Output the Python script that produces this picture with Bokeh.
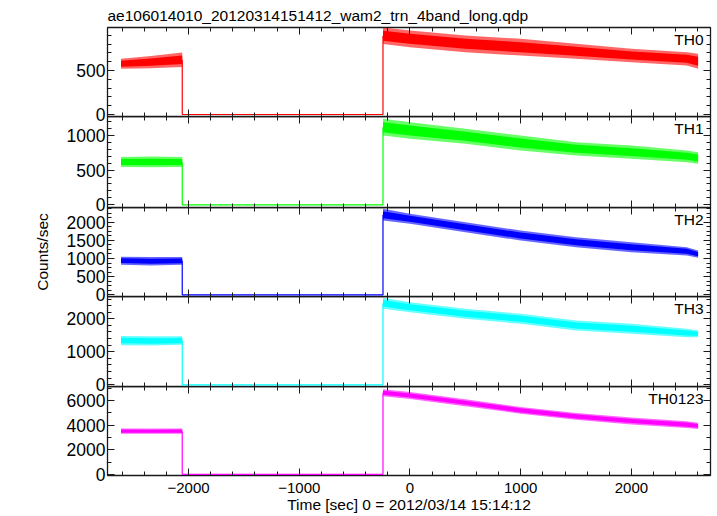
from bokeh.plotting import figure
from bokeh.layouts import column
from bokeh.models import (LinearAxis, Range1d, Label, Title, SingleIntervalTicker,
                          CustomJSTickFormatter)
from bokeh.embed import file_html
from bokeh.resources import INLINE

TITLE = "ae106014010_20120314151412_wam2_trn_4band_long.qdp"
XLABEL = "Time [sec] 0 = 2012/03/14 15:14:12"
YLABEL = "Counts/sec"

bands = ["TH0", "TH1", "TH2", "TH3", "TH0123"]
colors = ["#ff0000", "#00ff00", "#0000ff", "#00ffff", "#ff00ff"]

x_start, x_end = -2732, 2714

# sample times (sec)
pre_t = [-2610, -2340, -2057]
post_t = [-244, 0, 500, 1000, 1500, 2000, 2500, 2602]
gap_level = [0, 0, 0, 0, 0]

# envelopes of the noisy light curves (counts/sec)
th0_pre_lo = [520, 525, 540]
th0_pre_hi = [635, 665, 705]
th0_post_lo = [800, 765, 708, 670, 633, 595, 557, 520]
th0_post_hi = [990, 955, 898, 860, 803, 747, 708, 690]

th1_pre_lo = [545, 540, 545]
th1_pre_hi = [690, 695, 690]
th1_post_lo = [998, 951, 879, 782, 710, 663, 614, 591]
th1_post_hi = [1239, 1190, 1095, 998, 902, 854, 782, 758]

th2_pre_lo = [830, 810, 830]
th2_pre_hi = [1050, 1040, 1040]
th2_post_lo = [2047, 1956, 1725, 1496, 1311, 1174, 1083, 1019]
th2_post_hi = [2369, 2231, 2000, 1771, 1587, 1449, 1311, 1220]

th3_pre_lo = [1200, 1190, 1210]
th3_pre_hi = [1480, 1470, 1470]
th3_post_lo = [2303, 2200, 2000, 1848, 1645, 1545, 1442, 1442]
th3_post_hi = [2636, 2503, 2303, 2151, 1948, 1848, 1697, 1645]

th0123_pre_lo = [3300, 3300, 3300]
th0123_pre_hi = [3730, 3720, 3730]
th0123_post_lo = [6360, 6140, 5550, 4930, 4440, 4060, 3770, 3680]
th0123_post_hi = [6920, 6700, 6110, 5490, 5000, 4620, 4330, 4190]

y_ranges = [(-23, 989), (-39, 1272), (-47, 2405), (-52, 2676), (-97, 7150)]
y_major = [500, 500, 500, 1000, 2000]
y_minor = [5, 5, 4, 5, 2]

pre_lo = [th0_pre_lo, th1_pre_lo, th2_pre_lo, th3_pre_lo, th0123_pre_lo]
pre_hi = [th0_pre_hi, th1_pre_hi, th2_pre_hi, th3_pre_hi, th0123_pre_hi]
post_lo = [th0_post_lo, th1_post_lo, th2_post_lo, th3_post_lo, th0123_post_lo]
post_hi = [th0_post_hi, th1_post_hi, th2_post_hi, th3_post_hi, th0123_post_hi]

FONT = "Liberation Sans"
FRAME_W = 603
FRAME_H = [89, 91, 89, 90, 89]
LEFT = 107
OVERLAP = 12
FRAME_COLOR = "#1a1a1a"
CORE = 0.2   # fraction of the envelope drawn as fuzzy (semi-transparent) edge


def mk_axis(major, minor, labels=True):
    ax = LinearAxis(ticker=SingleIntervalTicker(interval=major, num_minor_ticks=minor),
                    major_tick_in=7, major_tick_out=0,
                    minor_tick_in=4, minor_tick_out=0,
                    axis_line_color=None,
                    major_tick_line_color=FRAME_COLOR, minor_tick_line_color=FRAME_COLOR,
                    major_tick_line_width=1, minor_tick_line_width=1)
    if labels:
        ax.major_label_text_font = FONT
        ax.major_label_text_color = "black"
    else:
        ax.formatter = CustomJSTickFormatter(code="return ''")
        ax.major_label_text_font_size = "0px"
        ax.major_label_standoff = 0
    return ax


def shrink(lo, hi):
    a = [l + CORE * (h - l) for l, h in zip(lo, hi)]
    b = [h - CORE * (h - l) for l, h in zip(lo, hi)]
    return a, b


figs = []
n = len(bands)
for i in range(n):
    last = (i == n - 1)
    p = figure(frame_width=FRAME_W, frame_height=FRAME_H[i],
               x_range=Range1d(x_start, x_end), y_range=Range1d(*y_ranges[i]),
               output_backend="svg", toolbar_location=None, title=None,
               x_axis_location=None, y_axis_location=None,
               min_border_left=LEFT, min_border_right=2,
               min_border_top=27 if i == 0 else 0,
               min_border_bottom=0 if last else OVERLAP,
               margin=(0, 0, 0 if last else -OVERLAP, 0))
    p.xgrid.visible = False
    p.ygrid.visible = False
    p.outline_line_color = FRAME_COLOR
    p.outline_line_width = 1.3
    p.background_fill_color = None
    p.border_fill_color = None

    c = colors[i]
    # fuzzy outer envelope
    p.varea(x=pre_t, y1=pre_lo[i], y2=pre_hi[i], color=c, fill_alpha=0.6)
    p.varea(x=post_t, y1=post_lo[i], y2=post_hi[i], color=c, fill_alpha=0.6)
    # solid core
    a, b = shrink(pre_lo[i], pre_hi[i])
    p.varea(x=pre_t, y1=a, y2=b, color=c)
    a, b = shrink(post_lo[i], post_hi[i])
    p.varea(x=post_t, y1=a, y2=b, color=c)

    step_x = [pre_t[-1], pre_t[-1], post_t[0], post_t[0]]
    step_y = [(pre_lo[i][-1] + pre_hi[i][-1]) / 2, gap_level[i], gap_level[i],
              (post_lo[i][0] + post_hi[i][0]) / 2]
    p.line(x=step_x, y=step_y, color=c, line_width=1.2)

    # left axis with labels
    la = mk_axis(y_major[i], y_minor[i], labels=True)
    la.major_label_text_font_size = "17.5px"
    la.major_label_standoff = 2
    if i == 2:
        la.axis_label = YLABEL
        la.axis_label_text_font = FONT
        la.axis_label_text_font_size = "15.5px"
        la.axis_label_text_font_style = "normal"
        la.axis_label_text_color = "black"
        la.axis_label_standoff = 13
    p.add_layout(la, "left")
    p.add_layout(mk_axis(y_major[i], y_minor[i], labels=False), "right")

    # top ticks
    p.add_layout(mk_axis(1000, 5, labels=False), "above")
    # bottom ticks
    if last:
        ba = mk_axis(1000, 5, labels=True)
        ba.major_label_text_font_size = "15px"
        ba.major_label_standoff = 7
        ba.axis_label = XLABEL
        ba.axis_label_text_font = FONT
        ba.axis_label_text_font_size = "15.5px"
        ba.axis_label_text_font_style = "normal"
        ba.axis_label_text_color = "black"
        ba.axis_label_standoff = 0
        p.add_layout(ba, "below")
    else:
        p.add_layout(mk_axis(1000, 5, labels=False), "below")

    if i == 0:
        p.add_layout(Title(text=TITLE, align="left", text_font=FONT,
                           text_font_size="15.5px", text_font_style="normal",
                           text_color="black", standoff=8, offset=0), "above")

    p.add_layout(Label(x=x_end, y=y_ranges[i][1], x_offset=-7, y_offset=-3,
                       text=bands[i], text_align="right", text_baseline="top",
                       text_font=FONT, text_font_size="15.5px", text_color="black"))
    figs.append(p)

layout = column(*figs, spacing=0)
open("out.html", "w").write(file_html(layout, INLINE))
